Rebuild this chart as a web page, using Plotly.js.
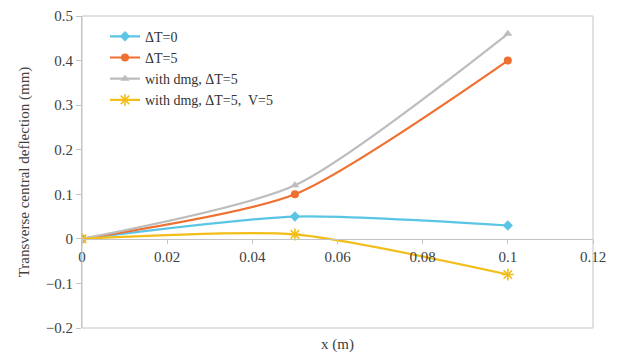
<!DOCTYPE html>
<html><head><meta charset="utf-8">
<script src="https://cdn.plot.ly/plotly-3.0.1.min.js"></script>
<style>
html,body{margin:0;padding:0;background:#fff}
#chart{width:622px;height:354px}
</style>
</head><body><div id="chart"></div>
<script>
const xVals = [0, 0.05, 0.1];
const seriesNames = ["ΔT=0", "ΔT=5", "with dmg, ΔT=5", "with dmg, ΔT=5,  V=5"];
const dT0 = [0, 0.05, 0.03];
const dT5 = [0, 0.1, 0.4];
const dmgDT5 = [0, 0.12, 0.46];
const dmgDT5V5 = [0, 0.01, -0.08];
const xTickStep = 0.02;
const yTickStep = 0.1;

const FONT = 'Liberation Serif';
const colors = ["#5bc5e6", "#ef7030", "#bdbdbd", "#f2be1a"];
const symbols = ["diamond", "circle", "triangle-up", "asterisk-open"];
const data = [dT0, dT5, dmgDT5, dmgDT5V5];

const traces = data.map((ys, i) => ({
  x: xVals, y: ys, name: seriesNames[i], type: 'scatter', mode: 'lines+markers',
  line: {color: colors[i], width: 2.2, shape: 'spline', smoothing: 0.65},
  marker: {color: colors[i], symbol: symbols[i], size: i === 3 ? 10 : 8,
           line: {color: colors[i], width: i === 3 ? 1.6 : 0}}
}));

const yr = [-0.2, 0.5];
const layout = {
  width: 622, height: 354,
  margin: {l: 82, r: 29, t: 16, b: 26},
  paper_bgcolor: '#fff', plot_bgcolor: '#fff',
  font: {family: FONT, size: 14, color: '#404040'},
  showlegend: true,
  legend: {x: 0.045, y: 0.985, xanchor: 'left', yanchor: 'top', bgcolor: 'rgba(0,0,0,0)',
           font: {family: FONT, size: 14, color: '#333'}},
  xaxis: {
    range: [0, 0.12], tick0: 0, dtick: xTickStep, tickmode: 'linear',
    anchor: 'free', position: (0 - yr[0]) / (yr[1] - yr[0]),
    showgrid: false, zeroline: false, showline: true, linecolor: '#c4c4c4', linewidth: 1,
    ticks: 'outside', ticklen: 4, tickcolor: '#c4c4c4',
    tickfont: {family: FONT, size: 15, color: '#404040'}
  },
  yaxis: {
    range: yr, tick0: 0, dtick: yTickStep, tickmode: 'linear',
    showgrid: false, zeroline: false, showline: true, linecolor: '#c4c4c4', linewidth: 1,
    ticks: 'outside', ticklen: 5, tickcolor: '#c4c4c4',
    tickfont: {family: FONT, size: 15, color: '#404040'},
    title: {text: 'Transverse central deflection (mm)', standoff: 12,
            font: {family: FONT, size: 15, color: '#404040'}}
  },
  shapes: [{type: 'rect', xref: 'paper', yref: 'paper', x0: 0, x1: 1, y0: 0, y1: 1,
            line: {color: '#c4c4c4', width: 1}}],
  annotations: [{text: 'x (m)', xref: 'paper', yref: 'paper', x: 0.5, y: 0, yshift: -6,
                 xanchor: 'center', yanchor: 'top', showarrow: false,
                 font: {family: FONT, size: 15, color: '#404040'}}]
};
Plotly.newPlot('chart', traces, layout, {staticPlot: true});
</script></body></html>
